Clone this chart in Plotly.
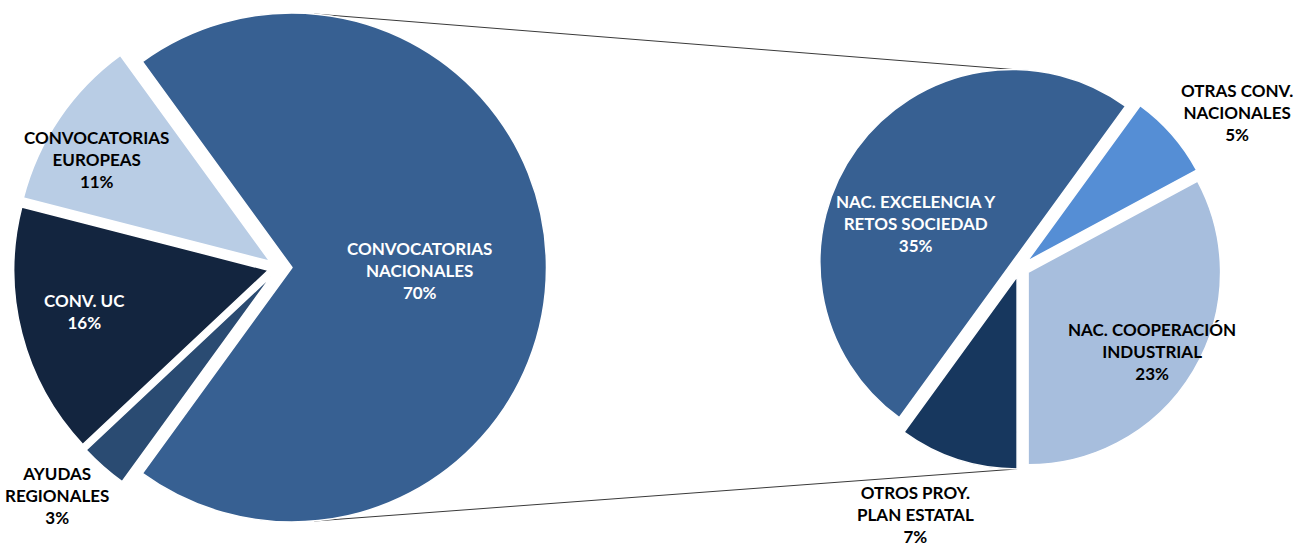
import math
import plotly.graph_objects as go

# ---------------- data ----------------
left_labels = ["CONVOCATORIAS<br>NACIONALES", "AYUDAS<br>REGIONALES", "CONV. UC", "CONVOCATORIAS<br>EUROPEAS"]
left_values = [70, 3, 16, 11]

right_labels = ["NAC. EXCELENCIA Y<br>RETOS SOCIEDAD", "OTRAS CONV.<br>NACIONALES",
                "NAC. COOPERACIÓN<br>INDUSTRIAL", "OTROS PROY.<br>PLAN ESTATAL"]
right_values = [35, 5, 23, 7]

# ---------------- styles / layout ----------------
W, H = 1306, 547
left_colors = ["#376092", "#2a4b72", "#13253f", "#b9cde5"]
right_colors = ["#376092", "#558ed5", "#a7bedd", "#17375e"]
left_text_colors = ["white", "black", "white", "black"]
right_text_colors = ["white", "black", "black", "black"]
left_pull = [0.051, 0.0435, 0.0435, 0.0435]
right_pull = [0.049, 0.049, 0.049, 0.049]
left_rotation = -36
right_rotation = 216

L_CX, L_CY, L_R = 279, 267.5, 254.5
R_CX, R_CY, R_R = 1020, 267.5, 192.5

# label anchor positions (px)
left_label_pos = [(419, 270), (57, 495), (84, 312), (96, 160)]
right_label_pos = [(916, 223), (1237, 113), (1152, 351), (915, 514)]

FONT = "Lato"
FSIZE = 17


def domain(cx, cy, r, pulls):
    half = r * (1 + max(pulls))
    return dict(x=[max(0, (cx - half) / W), min(1, (cx + half) / W)],
                y=[max(0, 1 - (cy + half) / H), min(1, 1 - (cy - half) / H)])


def slice_point(cx, cy, r, values, pulls, rotation, k, theta):
    total = sum(values)
    start = rotation + 360 * sum(values[:k]) / total
    mid = math.radians(start + 180 * values[k] / total)
    ox, oy = pulls[k] * r * math.sin(mid), -pulls[k] * r * math.cos(mid)
    t = math.radians(theta)
    return cx + ox + r * math.sin(t), cy + oy - r * math.cos(t)


def px(x, y):
    return x / W, 1 - y / H


fig = go.Figure()
fig.add_trace(go.Pie(
    labels=left_labels, values=left_values, sort=False, direction="clockwise",
    rotation=left_rotation, pull=left_pull, textinfo="none", hoverinfo="label+percent",
    marker=dict(colors=left_colors, line=dict(color="white", width=1.5)),
    domain=domain(L_CX, L_CY, L_R, left_pull), showlegend=False,
))
fig.add_trace(go.Pie(
    labels=right_labels, values=right_values, sort=False, direction="clockwise",
    rotation=right_rotation, pull=right_pull, textinfo="none", hoverinfo="label+value",
    marker=dict(colors=right_colors, line=dict(color="white", width=1.5)),
    domain=domain(R_CX, R_CY, R_R, right_pull), showlegend=False,
))

# connector lines between the pies
lt = slice_point(L_CX, L_CY, L_R, left_values, left_pull, left_rotation, 0, 5)
lb = slice_point(L_CX, L_CY, L_R, left_values, left_pull, left_rotation, 0, 175)
rt = slice_point(R_CX, R_CY, R_R, right_values, right_pull, right_rotation, 0, 0)
rb = slice_point(R_CX, R_CY, R_R, right_values, right_pull, right_rotation, 3, 180)
shapes = []
for a, b in [(lt, rt), (lb, rb)]:
    x0, y0 = px(*a)
    x1, y1 = px(*b)
    shapes.append(dict(type="line", xref="paper", yref="paper", x0=x0, y0=y0, x1=x1, y1=y1,
                       line=dict(color="#3a3a3a", width=1), layer="below"))

annotations = []
for labels, values, pos, cols in [(left_labels, left_values, left_label_pos, left_text_colors),
                                  (right_labels, right_values, right_label_pos, right_text_colors)]:
    for lab, v, (x, y), c in zip(labels, values, pos, cols):
        ax, ay = px(x, y)
        annotations.append(dict(
            text=f"{lab}<br>{v}%", x=ax, y=ay, xref="paper", yref="paper",
            xanchor="center", yanchor="middle", showarrow=False, align="center",
            font=dict(family=FONT, size=FSIZE, color=c, weight="bold"),
        ))

fig.update_layout(
    width=W, height=H, margin=dict(l=0, r=0, t=0, b=0),
    paper_bgcolor="white", plot_bgcolor="white",
    shapes=shapes, annotations=annotations, showlegend=False,
)

fig.write_html(
    "out.html",
    config={"displayModeBar": False},
    post_script="document.body.style.margin='0';document.body.style.overflow='hidden';",
)
